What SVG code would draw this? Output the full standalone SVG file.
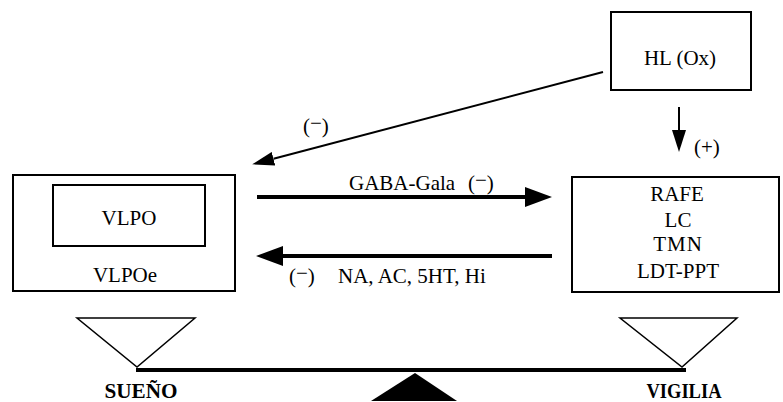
<svg xmlns="http://www.w3.org/2000/svg" width="783" height="402" viewBox="0 0 783 402">
  <style>
    text { font-family: "Liberation Serif", "Times New Roman", serif; font-size: 21px; fill: #000; text-anchor: middle; }
    .lbl { text-anchor: start; }
    .side { font-weight: bold; font-size: 20px; }
    .box { fill: #fff; stroke: #000; stroke-width: 2; }
    .thin { stroke: #000; stroke-width: 2; fill: none; }
    .bold { stroke: #000; stroke-width: 4; fill: none; }
    .pan { fill: #fff; stroke: #000; stroke-width: 1.5; }
  </style>
  <defs>
    <marker id="head-thin" markerUnits="userSpaceOnUse" markerWidth="22" markerHeight="14" refX="0" refY="7" orient="auto">
      <path d="M0,0 L22,7 L0,14 z" fill="#000"/>
    </marker>
    <marker id="head-bold" markerUnits="userSpaceOnUse" markerWidth="27" markerHeight="20" refX="0" refY="10" orient="auto">
      <path d="M0,0 L27,10 L0,20 z" fill="#000"/>
    </marker>
  </defs>

  <rect width="783" height="402" fill="#fff"/>

  <!-- connectors and their labels -->
  <g id="connectors">
    <line class="thin" x1="603" y1="72" x2="273.5" y2="158.7" marker-end="url(#head-thin)"/>
    <line class="thin" x1="679" y1="107" x2="679" y2="130" marker-end="url(#head-thin)"/>
    <line class="bold" x1="257" y1="197" x2="525" y2="197" marker-end="url(#head-bold)"/>
    <line class="bold" x1="552" y1="256" x2="283" y2="256" marker-end="url(#head-bold)"/>
    <text class="lbl" x="303" y="133">(<tspan dy="-3">−</tspan><tspan dy="3">)</tspan></text>
    <text class="lbl" x="694" y="154">(+)</text>
    <text class="lbl" x="349" y="190">GABA-Gala <tspan x="468">(</tspan><tspan dy="-3">−</tspan><tspan dy="3">)</tspan></text>
    <text class="lbl" x="289" y="283">(<tspan dy="-3">−</tspan><tspan dy="3">)</tspan><tspan x="338">NA, AC, 5HT, Hi</tspan></text>
  </g>

  <!-- hypothalamus lateral (orexin) -->
  <g id="hl">
    <rect class="box" x="611" y="12" width="140" height="78"/>
    <text x="680" y="65">HL (Ox)</text>
  </g>

  <!-- sleep-promoting area -->
  <g id="vlpoe">
    <rect class="box" x="13" y="175" width="222" height="116"/>
    <text x="125" y="282">VLPOe</text>
  </g>
  <g id="vlpo">
    <rect class="box" x="53" y="185" width="152" height="61"/>
    <text x="129" y="225">VLPO</text>
  </g>

  <!-- wake-promoting nuclei -->
  <g id="arousal">
    <rect class="box" x="572" y="177" width="207" height="115"/>
    <text x="677" y="201">RAFE</text>
    <text x="678" y="227">LC</text>
    <text x="678" y="251" letter-spacing="1">TMN</text>
    <text x="678" y="278">LDT-PPT</text>
  </g>

  <!-- balance -->
  <g id="balance">
    <polygon class="pan" points="77,318 195,318 137,367"/>
    <polygon class="pan" points="620,318 737,318 682,367"/>
    <line class="bold" x1="136" y1="370" x2="686" y2="370"/>
    <polygon points="415,373 457,401 371,401" fill="#000"/>
    <text class="side" x="141" y="398" textLength="73" lengthAdjust="spacingAndGlyphs">SUEÑO</text>
    <text class="side" x="684" y="398" textLength="75" lengthAdjust="spacingAndGlyphs">VIGILIA</text>
  </g>
</svg>
